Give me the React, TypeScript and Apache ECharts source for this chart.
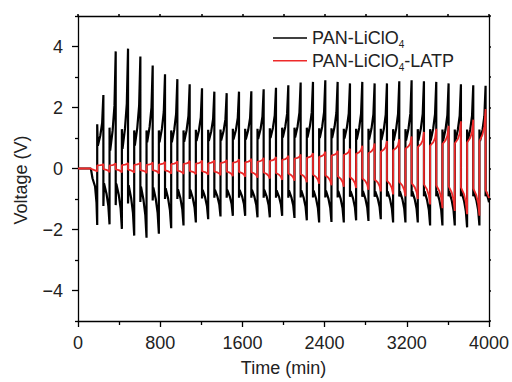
import React, { useEffect, useRef } from "react";
import * as echarts from "echarts";

// ---- data ----
const xTicks = [0, 800, 1600, 2400, 3200, 4000];
const yLabelValues = [-4, -2, 0, 2, 4];
const yMinorValues = [-5, -3, -1, 1, 3, 5];

// cycle timing (min)
const FIRST_PEAK = 247;
const PERIOD = 120;
const HALF = 60;
const END_TIME = 4000;

// rest period before cycling
const leadTime = [0, 125, 141, 166, 180, 187];
const leadBlack = [0, 0, -0.32, -0.59, -1.12, -1.85];
const leadRed = [0, 0, -0.03, -0.06, -0.08, -0.1];

// PAN-LiClO4 per cycle
const blackUpLevel = [1.45, 1.34, 1.29, 1.25, 1.25, 1.25, 1.25, 1.25, 1.27, 1.27, 1.28, 1.3, 1.3, 1.3, 1.32, 1.34, 1.34, 1.34, 1.32, 1.32, 1.3, 1.3, 1.3, 1.3, 1.29, 1.29, 1.29, 1.29, 1.28, 1.28, 1.28, 1.28];
const blackUpDip = [0.75, 0.59, 0.64, 0.75, 0.86, 0.86, 0.86, 0.88, 0.9, 0.9, 0.92, 0.95, 0.95, 0.97, 1.0, 1.02, 1.02, 1.02, 1.0, 1.0, 0.98, 0.95, 0.95, 0.93, 0.92, 0.92, 0.92, 0.92, 0.9, 0.9, 0.9, 0.9];
const blackPeak = [2.41, 3.84, 3.93, 3.67, 3.38, 3.09, 2.93, 2.76, 2.63, 2.52, 2.47, 2.52, 2.53, 2.6, 2.65, 2.73, 2.82, 2.84, 2.89, 2.84, 2.79, 2.84, 2.79, 2.79, 2.86, 2.89, 2.86, 2.84, 2.79, 2.76, 2.73, 2.71];
const blackDownLevel = [-1.23, -1.2, -1.15, -1.1, -1.05, -1.0, -1.0, -1.0, -0.98, -0.96, -0.96, -0.96, -0.96, -0.96, -0.96, -0.96, -0.95, -0.95, -0.95, -0.95, -0.93, -0.93, -0.93, -0.92, -0.92, -0.92, -0.91, -0.91, -0.91, -0.91, -0.91, -0.91];
const blackDownHook = [-0.48, -0.5, -0.55, -0.6, -0.62, -0.65, -0.68, -0.7, -0.7, -0.7, -0.7, -0.7, -0.7, -0.7, -0.72, -0.72, -0.72, -0.72, -0.72, -0.74, -0.74, -0.74, -0.75, -0.75, -0.75, -0.75, -0.75, -0.75, -0.76, -0.76, -0.76, -0.76];
const blackLow = [-1.83, -1.98, -2.2, -2.27, -2.14, -1.96, -1.87, -1.77, -1.66, -1.57, -1.55, -1.55, -1.6, -1.6, -1.55, -1.62, -1.7, -1.77, -1.75, -1.77, -1.7, -1.72, -1.66, -1.77, -1.77, -1.77, -1.87, -1.87, -1.87, -1.93, -1.87, -1.93];

// PAN-LiClO4-LATP per cycle
const redUpLevel = [0.1, 0.1, 0.11, 0.12, 0.12, 0.13, 0.14, 0.15, 0.16, 0.17, 0.18, 0.19, 0.2, 0.22, 0.25, 0.28, 0.32, 0.35, 0.38, 0.42, 0.45, 0.48, 0.5, 0.55, 0.6, 0.65, 0.7, 0.75, 0.8, 0.82, 0.85, 0.9];
const redHigh = [0.15, 0.17, 0.18, 0.2, 0.2, 0.22, 0.24, 0.25, 0.26, 0.27, 0.28, 0.3, 0.32, 0.35, 0.38, 0.42, 0.46, 0.5, 0.55, 0.58, 0.65, 0.75, 0.82, 0.9, 0.96, 1.05, 1.2, 1.3, 1.4, 1.55, 1.6, 1.95];
const redDownLevel = [-0.02, -0.03, -0.04, -0.05, -0.05, -0.06, -0.07, -0.08, -0.09, -0.1, -0.1, -0.11, -0.12, -0.13, -0.15, -0.16, -0.18, -0.2, -0.22, -0.25, -0.28, -0.32, -0.36, -0.4, -0.44, -0.48, -0.52, -0.55, -0.58, -0.62, -0.65, -0.7];
const redLow = [-0.12, -0.13, -0.14, -0.15, -0.16, -0.17, -0.18, -0.19, -0.2, -0.22, -0.25, -0.27, -0.3, -0.33, -0.37, -0.4, -0.45, -0.5, -0.55, -0.6, -0.64, -0.7, -0.75, -0.85, -0.91, -1.0, -1.18, -1.3, -1.39, -1.5, -1.55, -1.61];

const BLACK_NAME = "PAN-LiClO4";
const RED_NAME = "PAN-LiClO4-LATP";
const X_TITLE = "Time (min)";
const Y_TITLE = "Voltage (V)";

// within-half-cycle shape (time offsets in min, fraction of the ramp)
const rampOffsets = [6, 30, 48];
const posRampFrac = [0, 0.2, 0.45];
const negRampFrac = [0, 0.25, 0.55];

function buildTrace(
  leadV: number[],
  up: number[],
  dip: number[],
  peak: number[],
  down: number[],
  hook: number[],
  low: number[]
): number[][] {
  const pts: number[][] = leadTime.map((t, i) => [t, leadV[i]]);
  for (let k = 0; k < peak.length; k++) {
    const tUp = FIRST_PEAK + k * PERIOD - HALF;
    const tPk = FIRST_PEAK + k * PERIOD;
    pts.push([tUp, up[k]]);
    rampOffsets.forEach((o, j) => {
      pts.push([tUp + o, dip[k] + posRampFrac[j] * (peak[k] - dip[k])]);
    });
    pts.push([tPk, peak[k]]);
    pts.push([tPk, down[k]]);
    rampOffsets.forEach((o, j) => {
      pts.push([tPk + o, hook[k] + negRampFrac[j] * (low[k] - hook[k])]);
    });
    pts.push([tPk + HALF, low[k]]);
  }
  const out: number[][] = [];
  for (let i = 0; i < pts.length; i++) {
    const p = pts[i];
    if (p[0] <= END_TIME) {
      out.push(p);
    } else {
      const q = pts[i - 1];
      const f = (END_TIME - q[0]) / (p[0] - q[0]);
      out.push([END_TIME, q[1] + f * (p[1] - q[1])]);
      break;
    }
  }
  return out;
}

const FONT = "'Liberation Sans', Arial, Helvetica, sans-serif";
const TXT = "#222";

export default function App() {
  const ref = useRef<HTMLDivElement>(null);
  useEffect(() => {
    if (!ref.current) return;
    const chart = echarts.init(ref.current, undefined, { renderer: "svg" });
    const blackData = buildTrace(leadBlack, blackUpLevel, blackUpDip, blackPeak, blackDownLevel, blackDownHook, blackLow);
    const redData = buildTrace(leadRed, redUpLevel, redUpLevel, redHigh, redDownLevel, redDownLevel, redLow);
    const minus = (v: number) => (v < 0 ? "\u2212" + Math.abs(v) : String(v));
    const frame = { show: true, onZero: false, lineStyle: { color: "#000", width: 1.3 } };
    chart.setOption({
      animation: false,
      backgroundColor: "#fff",
      textStyle: { fontFamily: FONT },
      grid: { left: 78, right: 18, top: 16, bottom: 55, containLabel: false },
      graphic: [
        {
          type: "text",
          x: 21,
          y: 180,
          rotation: Math.PI / 2,
          style: {
            text: Y_TITLE,
            fontSize: 18,
            fontFamily: FONT,
            fill: TXT,
            align: "center",
            verticalAlign: "middle",
          },
        },
      ],
      legend: {
        orient: "vertical",
        left: 273,
        top: 29,
        padding: 0,
        itemGap: 1.7,
        itemWidth: 34,
        itemHeight: 1.6,
        icon: "rect",
        data: [BLACK_NAME, RED_NAME],
        formatter: (name: string) =>
          name === BLACK_NAME ? "{a|PAN-LiClO}{s|4}" : "{a|PAN-LiClO}{s|4}{a|-LATP}",
        textStyle: {
          color: TXT,
          fontSize: 18,
          fontFamily: FONT,
          rich: {
            a: { fontSize: 18, lineHeight: 24, color: TXT, fontFamily: FONT },
            s: { fontSize: 10, lineHeight: 10, verticalAlign: "bottom", color: TXT, fontFamily: FONT },
          },
        },
      },
      xAxis: [
        {
          type: "value",
          position: "bottom",
          min: xTicks[0],
          max: xTicks[xTicks.length - 1],
          interval: xTicks[1] - xTicks[0],
          axisLine: frame,
          axisTick: { show: true, inside: false, length: 6, lineStyle: { color: "#000", width: 1.3 } },
          minorTick: { show: true, splitNumber: 2, length: 4, lineStyle: { color: "#000", width: 1.3 } },
          splitLine: { show: false },
          axisLabel: { color: TXT, fontSize: 18, fontFamily: FONT, margin: 13, formatter: (v: number) => String(v) },
          name: X_TITLE,
          nameLocation: "middle",
          nameGap: 38,
          nameTextStyle: { color: TXT, fontSize: 18, fontFamily: FONT },
        },
        {
          type: "value",
          position: "top",
          min: xTicks[0],
          max: xTicks[xTicks.length - 1],
          interval: xTicks[1] - xTicks[0],
          axisLine: frame,
          axisTick: { show: true, inside: false, length: 2, lineStyle: { color: "#000", width: 1.5 } },
          minorTick: { show: true, splitNumber: 2, length: 2, lineStyle: { color: "#000", width: 1.5 } },
          splitLine: { show: false },
          axisLabel: { show: false },
        },
      ],
      yAxis: [
        {
          type: "value",
          position: "left",
          min: -5,
          max: 5,
          axisLine: frame,
          axisTick: { show: true, inside: false, length: 6, customValues: yLabelValues, lineStyle: { color: "#000", width: 1.3 } },
          splitLine: { show: false },
          axisLabel: {
            color: TXT,
            fontSize: 18,
            fontFamily: FONT,
            margin: 15,
            customValues: yLabelValues,
            formatter: (v: number) => minus(v),
          },
        },
        {
          type: "value",
          position: "left",
          min: -5,
          max: 5,
          axisLine: { show: false, onZero: false },
          axisTick: { show: true, inside: false, length: 3, customValues: yMinorValues, lineStyle: { color: "#000", width: 1.3 } },
          splitLine: { show: false },
          axisLabel: { show: false },
        },
        {
          type: "value",
          position: "right",
          min: -5,
          max: 5,
          interval: 1,
          axisLine: frame,
          axisTick: { show: true, inside: false, length: 2, lineStyle: { color: "#000", width: 1.5 } },
          splitLine: { show: false },
          axisLabel: { show: false },
        },
      ],
      series: [
        {
          name: BLACK_NAME,
          type: "line",
          xAxisIndex: 0,
          yAxisIndex: 0,
          data: blackData,
          symbol: "none",
          showSymbol: false,
          lineStyle: { color: "#000", width: 2.2 },
          itemStyle: { color: "#000" },
          z: 2,
        },
        {
          name: RED_NAME,
          type: "line",
          xAxisIndex: 0,
          yAxisIndex: 0,
          data: redData,
          symbol: "none",
          showSymbol: false,
          lineStyle: { color: "#ee2a2a", width: 1.8 },
          itemStyle: { color: "#ee2a2a" },
          z: 3,
        },
      ],
    });
    return () => chart.dispose();
  }, []);
  return (
    <div
      ref={ref}
      style={{ position: "fixed", left: 0, top: 0, width: 512, height: 382, background: "#fff" }}
    />
  );
}
